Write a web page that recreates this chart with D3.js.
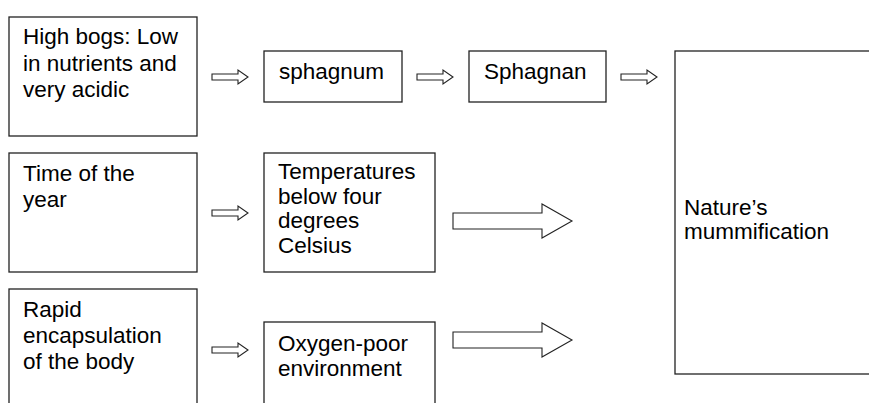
<!DOCTYPE html>
<html>
<head>
<meta charset="utf-8">
<script src="https://cdn.jsdelivr.net/npm/d3@7"></script>
<style>
  html, body { margin: 0; padding: 0; background: #fff; }
  svg { display: block; }
  .box { fill: #fff; stroke: #222; stroke-width: 1.3; }
  .arrow { fill: #fff; stroke: #222; stroke-width: 1.1; stroke-linejoin: miter; }
  .label { font-family: Arial, "Liberation Sans", sans-serif; font-size: 22.5px; fill: #000; }
</style>
</head>
<body>
<div id="chart"></div>
<script>
// Box texts (one entry per line)
const boxIds = ["bogs", "sphagnum", "sphagnan", "time", "temp", "rapid", "oxygen", "nature"];
const boxLines = [
  ["High bogs: Low", "in nutrients and", "very acidic"],
  ["sphagnum"],
  ["Sphagnan"],
  ["Time of the", "year"],
  ["Temperatures", "below four", "degrees", "Celsius"],
  ["Rapid", "encapsulation", "of the body"],
  ["Oxygen-poor", "environment"],
  ["Nature\u2019s", "mummification"]
];
// Links between boxes
const linkFrom = ["bogs", "sphagnum", "sphagnan", "time", "temp", "rapid", "oxygen"];
const linkTo   = ["sphagnum", "sphagnan", "nature", "temp", "nature", "oxygen", "nature"];
const linkKind = ["small", "small", "small", "small", "big", "small", "big"];

// Layout
const W = 869, H = 403;
const layout = {
  bogs:     {x: 9,   y: 17,  w: 188, h: 119, tx: 14, ty: 27, lh: 26.5},
  sphagnum: {x: 264, y: 51,  w: 138, h: 51,  tx: 15, ty: 28, lh: 26},
  sphagnan: {x: 469, y: 51,  w: 137, h: 51,  tx: 15, ty: 28, lh: 26},
  time:     {x: 9,   y: 153, w: 188, h: 119, tx: 14, ty: 28, lh: 26},
  temp:     {x: 264, y: 153, w: 171, h: 119, tx: 14, ty: 26, lh: 24.5},
  rapid:    {x: 9,   y: 289, w: 188, h: 140, tx: 14, ty: 28, lh: 26},
  oxygen:   {x: 264, y: 322, w: 171, h: 120, tx: 14, ty: 29, lh: 25},
  nature:   {x: 675, y: 51,  w: 260, h: 323, tx: 9,  ty: 164, lh: 23.5}
};
const arrowCenterY = {bogs: 77, sphagnum: 77, sphagnan: 77, time: 213, temp: 221, rapid: 350, oxygen: 340};
const arrowSpec = {
  small: {x0: 15, len: 36, head: 10, shaft: 6, headH: 14},
  big:   {x0: 18, len: 119, head: 30, shaft: 16, headH: 34}
};

const svg = d3.select("#chart").append("svg")
  .attr("width", W).attr("height", H);

// Boxes
const boxes = svg.append("g").selectAll("g")
  .data(boxIds.map((id, i) => ({id, lines: boxLines[i], ...layout[id]})))
  .join("g")
  .attr("transform", d => `translate(${d.x},${d.y})`);

boxes.append("rect")
  .attr("class", "box")
  .attr("width", d => d.w)
  .attr("height", d => d.h);

boxes.each(function(d) {
  d3.select(this).selectAll("text")
    .data(d.lines)
    .join("text")
    .attr("class", "label")
    .attr("x", d.tx)
    .attr("y", (_, i) => d.ty + i * d.lh)
    .text(t => t);
});

// Block arrows
function arrowPath(x, cy, s) {
  const p = d3.path();
  const hx = x + s.len - s.head;
  p.moveTo(x, cy - s.shaft / 2);
  p.lineTo(hx, cy - s.shaft / 2);
  p.lineTo(hx, cy - s.headH / 2);
  p.lineTo(x + s.len, cy);
  p.lineTo(hx, cy + s.headH / 2);
  p.lineTo(hx, cy + s.shaft / 2);
  p.lineTo(x, cy + s.shaft / 2);
  p.closePath();
  return p.toString();
}

svg.append("g").selectAll("path")
  .data(linkFrom.map((f, i) => ({from: f, to: linkTo[i], kind: linkKind[i]})))
  .join("path")
  .attr("class", "arrow")
  .attr("d", d => {
    const b = layout[d.from], s = arrowSpec[d.kind];
    return arrowPath(b.x + b.w + s.x0, arrowCenterY[d.from], s);
  });
</script>
</body>
</html>
